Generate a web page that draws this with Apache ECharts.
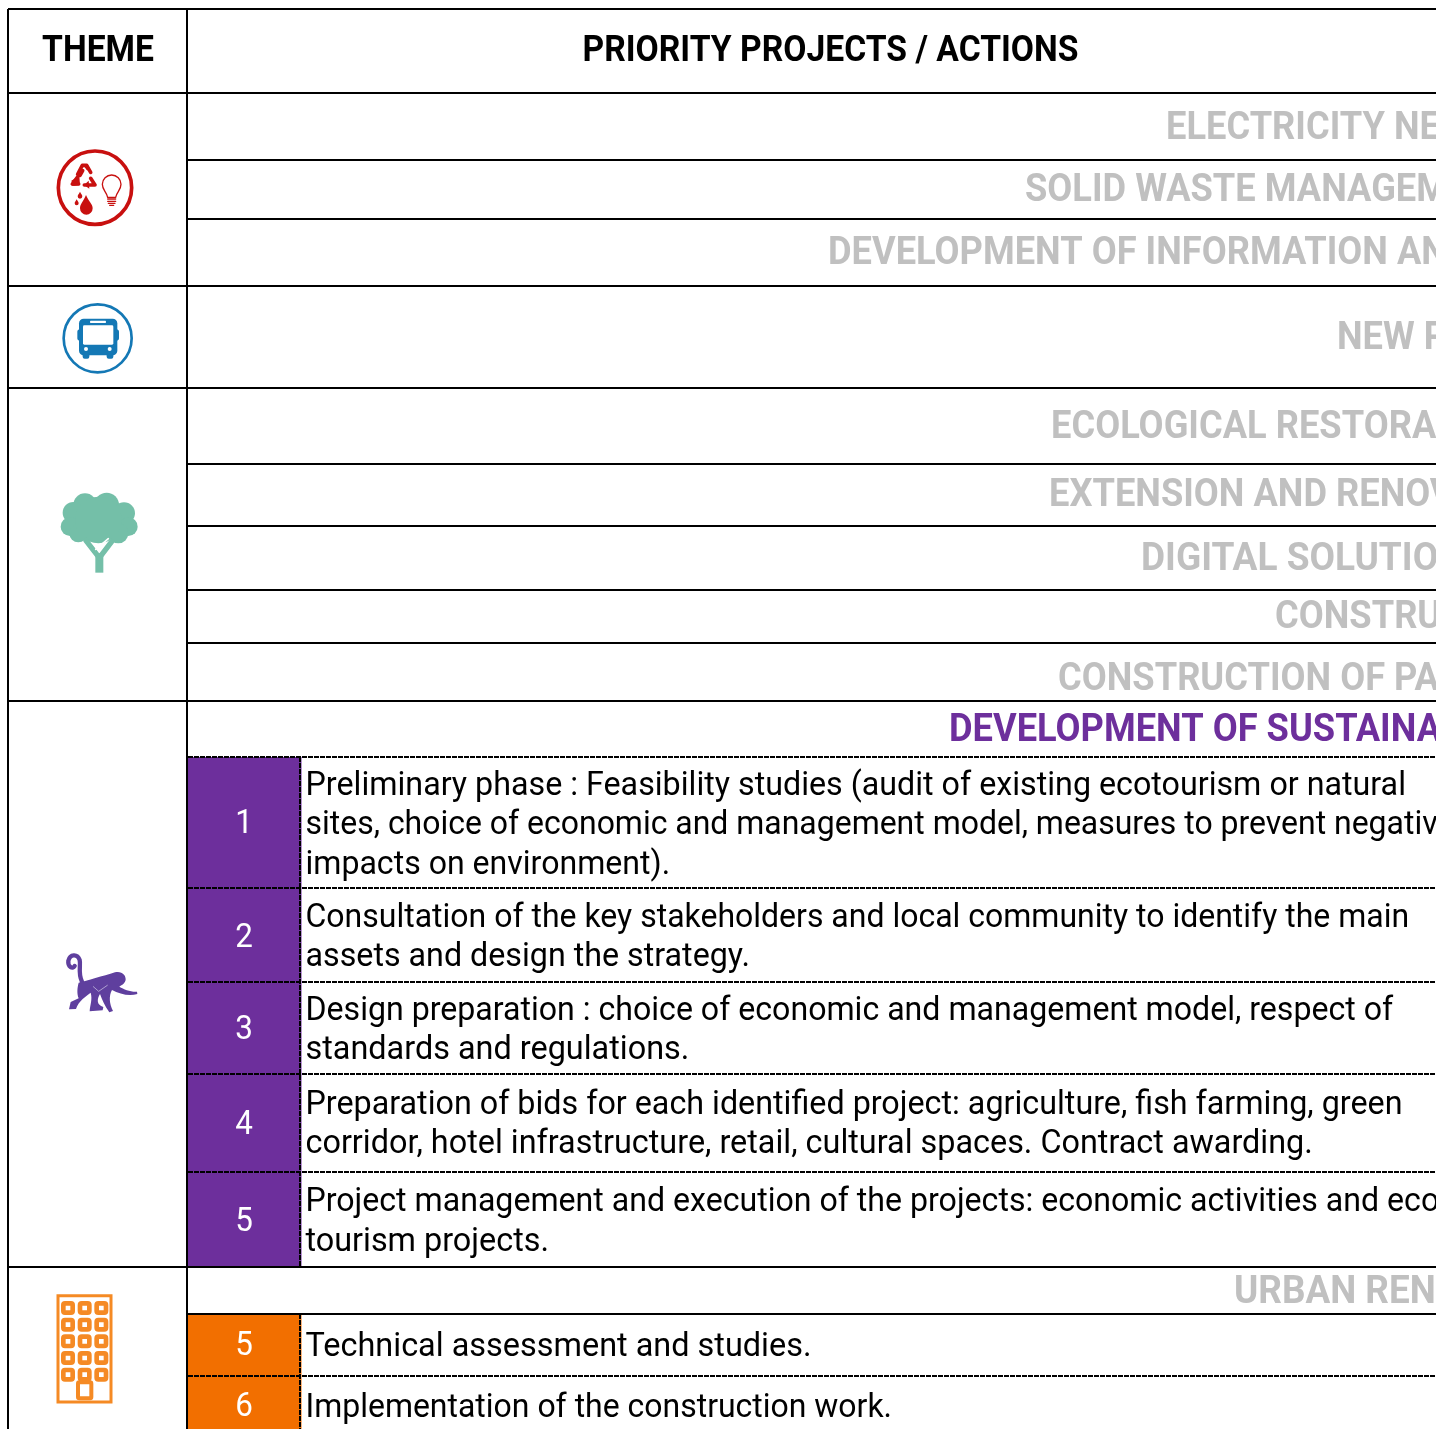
<!DOCTYPE html>
<html><head><meta charset="utf-8">
<style>html,body{margin:0;padding:0;background:#fff;overflow:hidden}#c{width:1436px;height:1429px}</style>
<script src="https://cdn.jsdelivr.net/npm/echarts@6/dist/echarts.min.js"></script>
</head><body><div id="c"></div>
<script>
// ---- table content ----
const headers = [["THEME",98,52],["PRIORITY PROJECTS / ACTIONS",830.5,52]];
const greyProjects = [
 ["ELECTRICITY NE",1166,129],["SOLID WASTE MANAGEM",1025,191],["DEVELOPMENT OF INFORMATION AN",828,254],
 ["NEW P",1337,339],["ECOLOGICAL RESTORA",1051,428],["EXTENSION AND RENOV",1049,496],
 ["DIGITAL SOLUTIO",1141,560],["CONSTRUC",1275,618],["CONSTRUCTION OF PA",1058,680],["URBAN REN",1234,1293]];
const greyFit = [.93,.93,.93,.93,.93,.93,.95,.93,.93,.945];
const purpleProject = ["DEVELOPMENT OF SUSTAINA",949,731];
const steps = [
 ["1",188,757,888,"#6D2F9C",825],["2",188,888,982,"#6D2F9C",939],["3",188,982,1074,"#6D2F9C",1031],
 ["4",188,1074,1172,"#6D2F9C",1126],["5",188,1172,1267,"#6D2F9C",1223],
 ["5",188,1314,1376,"#F26F00",1347],["6",188,1376,1429,"#F26F00",1408]];
const stepLines = [
 ["Preliminary phase : Feasibility studies (audit of existing ecotourism or natural",786],
 ["sites, choice of economic and management model, measures to prevent negativ",825],
 ["impacts on environment).",865],
 ["Consultation of the key stakeholders and local community to identify the main",918],
 ["assets and design the strategy.",957],
 ["Design preparation : choice of economic and management model, respect of",1011],
 ["standards and regulations.",1050],
 ["Preparation of bids for each identified project: agriculture, fish farming, green",1105],
 ["corridor, hotel infrastructure, retail, cultural spaces. Contract awarding.",1144],
 ["Project management and execution of the projects: economic activities and eco",1202],
 ["tourism projects.",1242],
 ["Technical assessment and studies.",1347],
 ["Implementation of the construction work.",1408]];
const lineFit = [.948,.94,.943,.941,.948,.944,.953,.949,.952,.944,.952,.954,.94];
const solidH = [[8,9],[8,93],[187,160],[187,219],[8,286],[8,388],[187,464],[187,526],[187,590],[187,643],[8,701],[8,1267],[187,1314]];
const dashedH = [757,888,982,1074,1172,1376];
const solidV = [[8,9,1429],[187,9,1429]];
const dashedV = [[300,757,1267],[300,1314,1429]];

// ---- icons, in a local 1/3 px space ----
const RED="#C8100F",BLUE="#1478B5",GREEN="#74BFA8",VIOLET="#5F3F9E",ORANGE="#F58A24";
function circ(cx,cy,r,fill,stroke,lw){return {type:'circle',shape:{cx,cy,r},style:{fill:fill||'none',stroke:stroke||null,lineWidth:lw||0}};}
function rct(x,y,width,height,fill,stroke,lw,rr){return {type:'rect',shape:{x,y,width,height,r:rr||0},style:{fill:fill||'none',stroke:stroke||null,lineWidth:lw||0}};}
function pth(d,fill,stroke,lw){return {type:'path',shape:{pathData:d},style:{fill:fill||'none',stroke:stroke||null,lineWidth:lw||0,lineCap:'round',lineJoin:'round'}};}
function icons(){
 const out=[];
 // utilities (origin 40,140)
 out.push({o:[40,140],els:[
  circ(165,143,110,'#fff',RED,11),
  pth("M113 103 L127 76 L140 76 L152 97 M120 106 L128 92 M99 132 L116 132 M112 112 L97 132 M133 135 L165 135 L152 115",null,RED,11),
  pth("M127 72 L142 72 L155 95 L140 90 Z M94 122 L118 108 L120 135 L100 138 Z M132 135 L146 122 L148 146 Z",RED),
  pth("M138 165 C130 185 120 192 120 205 A19 19 0 0 0 158 205 C158 192 146 185 138 165Z",RED),
  pth("M120 155 C116 163 113 165 113 169 A7 7 0 0 0 127 169 C127 165 124 163 120 155Z",RED),
  pth("M110 178 C106 185 104 187 104 190 A6 6 0 0 0 116 190 C116 187 114 185 110 178Z",RED),
  pth("M203 172 C200 155 187 150 187 133 A28 28 0 0 1 243 133 C243 150 230 155 227 172 Z",'#fff',RED,4),
  pth("M203 177 L227 177 M203 184 L227 184 M205 190 L225 190 M209 196 L221 196",null,RED,4)]});
 // transport (origin 0,90)
 out.push({o:[0,90],els:[
  circ(293,745,102,'#fff',BLUE,8),
  rct(232,718,125,34,BLUE,null,0,8),
  rct(237,686,115,110,BLUE,null,0,14),
  rct(248,790,20,16,BLUE,null,0,6),rct(320,790,20,16,BLUE,null,0,6),
  rct(249,706,91,58,'#fff',null,0,4),
  rct(270,692,48,7,'#fff',null,0,2),
  circ(258,777,6,'#fff'),circ(329,777,6,'#fff')]});
 // green spaces (origin 30,470)
 const t=[[165,105,35],[230,105,37],[130,128,32],[282,130,33],[120,170,28],[295,170,28],[145,190,27],[265,190,30],[205,150,70]];
 out.push({o:[30,470],els:[
  ...t.map(c=>circ(c[0],c[1],c[2],GREEN)),
  rct(196,250,24,58,GREEN),
  pth("M207 262 L168 212 M209 262 L245 215",null,GREEN,16),
  pth("M197 238 L235 206",null,'#fff',5)]});
 // monkey (origin 40,930)
 out.push({o:[40,930],els:[
  pth("M126 155 C113 130 123 105 119 90 C112 70 90 72 85 92 C83 110 98 119 104 108",null,VIOLET,13),
  pth("M116 158 C140 152 190 138 225 127 C245 122 258 135 257 150 C252 165 242 166 238 170 C252 178 270 186 291 185 L292 192 C268 200 238 192 216 180 C206 198 208 222 219 243 L208 247 C194 228 186 208 180 192 C170 208 170 225 190 231 L188 241 L149 244 C150 225 158 208 152 188 C140 198 115 212 108 237 L87 238 L92 216 L116 205 C110 190 112 172 116 158Z",VIOLET),
  pth("M160 170 L176 184 L202 166",null,'#D8D0EA',2)]});
 // buildings (origin 30,1270)
 const wins=[];
 for(const y of [114,164,214,264,314]) for(const x of [114,164,214]) wins.push(rct(x-14,y-14,28,28,'#fff',ORANGE,14,5));
 out.push({o:[30,1270],els:[
  rct(84,77,159,319,'#fff',ORANGE,9),...wins,
  rct(144,337,40,48,'#fff',ORANGE,12,4)]});
 return out;
}
const iconList = icons();

// ---- series renderers ----
const chart = echarts.init(document.getElementById('c'),null,{renderer:'canvas'});
const font=(w,s)=>`${w} ${s}px Roboto`;
function textSeries(items,style){
 return {type:'custom',coordinateSystem:'cartesian2d',silent:true,clip:false,z:style.z||5,
  data:items.map(i=>[i[1],i[2],i[0]]),
  renderItem(p,api){const c=api.coord([api.value(0),api.value(1)]);
   const sx=style.fit?style.fit[p.dataIndex]:style.sx;
   return {type:'text',x:c[0],y:c[1],scaleX:sx||1,style:{text:items[p.dataIndex][0],font:style.font,fill:style.fill,textAlign:style.align||'left',textVerticalAlign:'middle'}};}};
}
const series=[
 // coloured step cells
 {type:'custom',z:1,silent:true,clip:false,data:steps.map(s=>[s[1],s[2],s[3]]),
  renderItem(p,api){const a=api.coord([api.value(0),api.value(1)]),b=api.coord([301.5,api.value(2)]);
   return {type:'rect',shape:{x:a[0],y:a[1],width:b[0]-a[0],height:b[1]-a[1]},style:{fill:steps[p.dataIndex][4]}};}},
 // solid horizontal
 {type:'custom',z:3,silent:true,clip:false,data:solidH,
  renderItem(p,api){const a=api.coord([api.value(0),api.value(1)]),b=api.coord([1436,api.value(1)]);
   return {type:'line',shape:{x1:a[0],y1:a[1],x2:b[0],y2:b[1]},style:{stroke:'#000',lineWidth:2}};}},
 // solid vertical
 {type:'custom',z:3,silent:true,clip:false,data:solidV,
  renderItem(p,api){const a=api.coord([api.value(0),api.value(1)]),b=api.coord([api.value(0),api.value(2)]);
   return {type:'line',shape:{x1:a[0],y1:a[1],x2:b[0],y2:b[1]},style:{stroke:'#000',lineWidth:2}};}},
 // dashed horizontal
 {type:'custom',z:3,silent:true,clip:false,data:dashedH.map(y=>[188,y]),
  renderItem(p,api){const a=api.coord([api.value(0),api.value(1)]),b=api.coord([1436,api.value(1)]);
   return {type:'line',shape:{x1:a[0],y1:a[1],x2:b[0],y2:b[1]},style:{stroke:'#000',lineWidth:2,lineDash:[5,1]}};}},
 // dashed vertical
 {type:'custom',z:3,silent:true,clip:false,data:dashedV,
  renderItem(p,api){const a=api.coord([api.value(0),api.value(1)]),b=api.coord([api.value(0),api.value(2)]);
   return {type:'line',shape:{x1:a[0],y1:a[1],x2:b[0],y2:b[1]},style:{stroke:'#000',lineWidth:2,lineDash:[5,1]}};}},
 // icons
 {type:'custom',z:4,silent:true,clip:false,data:iconList.map(i=>i.o),
  renderItem(p,api){const c=api.coord([api.value(0),api.value(1)]);
   return {type:'group',x:c[0],y:c[1],scaleX:1/3,scaleY:1/3,children:iconList[p.dataIndex].els};}},
 textSeries(headers,{font:font(700,36),fill:'#000',align:'center',sx:.935}),
 textSeries(greyProjects,{font:font(700,39),fill:'#C0C0C0',fit:greyFit}),
 textSeries([purpleProject],{font:font(700,39),fill:'#6D2F9C',sx:.93}),
 textSeries(steps.map(s=>[s[0],244,s[5]]),{font:font(400,33),fill:'#fff',align:'center',sx:.95}),
 textSeries(stepLines.map(l=>[l[0],305.5,l[1]]),{font:font(400,34),fill:'#000',fit:lineFit})
];
chart.setOption({animation:false,
 grid:{left:0,right:0,top:0,bottom:0},
 xAxis:{type:'value',min:0,max:1436,show:false},
 yAxis:{type:'value',min:0,max:1429,inverse:true,show:false},
 series});
</script></body></html>
